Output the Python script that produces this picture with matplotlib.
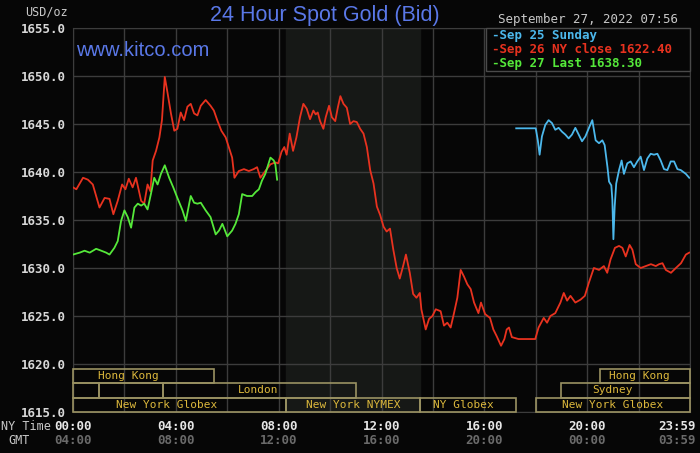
import matplotlib
matplotlib.use('Agg')
import matplotlib.pyplot as plt
from matplotlib.patches import Rectangle
from matplotlib.transforms import offset_copy

# --- data (hours NY time, USD/oz) ---
sep27_hours = [0.0, 0.26, 0.45, 0.65, 0.9, 1.1, 1.29, 1.42, 1.61, 1.74, 1.87, 2.0,
               2.13, 2.26, 2.39, 2.52, 2.65, 2.77, 2.9, 3.03, 3.16, 3.29, 3.42, 3.57,
               3.74, 3.9, 4.06, 4.26, 4.39, 4.52, 4.58, 4.71, 4.84, 4.97, 5.16, 5.35,
               5.55, 5.68, 5.81, 6.0, 6.19, 6.32, 6.45, 6.58, 6.77, 6.97, 7.1, 7.23,
               7.35, 7.48, 7.68, 7.81, 7.87, 7.94]
sep27_vals = [1631.4, 1631.6, 1631.8, 1631.6, 1632.0, 1631.8, 1631.6, 1631.4, 1632.1, 1632.8,
              1634.9, 1636.0, 1635.3, 1634.2, 1636.3, 1636.7, 1636.5, 1636.7, 1636.1, 1637.7,
              1639.4, 1638.7, 1639.8, 1640.7, 1639.4, 1638.4, 1637.3, 1636.0, 1634.9, 1636.7,
              1637.5, 1636.8, 1636.7, 1636.8, 1636.0, 1635.3, 1633.5, 1633.9, 1634.6, 1633.3,
              1633.9, 1634.6, 1635.6, 1637.7, 1637.5, 1637.5, 1637.9, 1638.2, 1639.1, 1639.8,
              1641.5, 1641.2, 1640.8, 1639.2]

sep26_hours = [0.0, 0.13, 0.39, 0.58, 0.77, 1.03, 1.23, 1.42, 1.57, 1.74, 1.91, 2.04,
               2.17, 2.32, 2.45, 2.65, 2.77, 2.9, 3.01, 3.1, 3.23, 3.36, 3.46, 3.57,
               3.68, 3.81, 3.94, 4.06, 4.19, 4.32, 4.45, 4.58, 4.71, 4.84, 4.97, 5.16,
               5.35, 5.48, 5.61, 5.77, 5.94, 6.06, 6.19, 6.28, 6.45, 6.65, 6.84, 7.03,
               7.16, 7.29, 7.48, 7.68, 7.87, 7.98, 8.11, 8.22, 8.31, 8.43, 8.56, 8.69,
               8.83, 8.96, 9.09, 9.22, 9.35, 9.44, 9.52, 9.61, 9.74, 9.83, 9.96, 10.07,
               10.2, 10.3, 10.4, 10.52, 10.65, 10.78, 10.91, 11.04, 11.17, 11.3, 11.43,
               11.56, 11.69, 11.82, 11.95, 12.08, 12.2, 12.33, 12.46, 12.59, 12.71, 12.85,
               12.95, 13.1, 13.23, 13.36, 13.49, 13.55, 13.72, 13.85, 13.98, 14.11, 14.3,
               14.43, 14.56, 14.69, 14.82, 14.95, 15.08, 15.21, 15.34, 15.47, 15.6, 15.77,
               15.87, 16.03, 16.22, 16.35, 16.48, 16.65, 16.78, 16.87, 16.96, 17.07, 17.33,
               17.59, 17.98, 18.11, 18.31, 18.44, 18.57, 18.76, 18.96, 19.09, 19.22, 19.35,
               19.54, 19.74, 19.91, 20.07, 20.26, 20.46, 20.65, 20.78, 20.91, 21.08, 21.24,
               21.37, 21.5, 21.65, 21.76, 21.89, 22.08, 22.28, 22.48, 22.67, 22.8, 22.93,
               23.06, 23.26, 23.45, 23.65, 23.84, 23.97]
sep26_vals = [1638.4, 1638.2, 1639.4, 1639.2, 1638.7, 1636.3, 1637.3, 1637.2, 1635.6, 1637.0,
              1638.7, 1638.2, 1639.3, 1638.4, 1639.4, 1637.0, 1636.7, 1638.7, 1638.0, 1641.2,
              1642.2, 1643.6, 1645.4, 1649.9, 1648.2, 1646.1, 1644.3, 1644.5, 1646.2, 1645.4,
              1646.8, 1647.1, 1646.1, 1645.9, 1646.9, 1647.5, 1646.9, 1646.4, 1645.4, 1644.3,
              1643.6, 1642.6, 1641.5, 1639.4, 1640.1, 1640.3, 1640.1, 1640.3, 1640.5, 1639.4,
              1640.1, 1640.8, 1641.0, 1640.9, 1642.1, 1642.6, 1641.8, 1644.0, 1642.2, 1643.6,
              1645.7, 1647.1, 1646.6, 1645.5, 1646.4, 1646.0, 1646.2, 1645.3, 1644.5, 1645.7,
              1646.9, 1645.7, 1645.3, 1646.7, 1647.9, 1647.1, 1646.7, 1645.0, 1645.3, 1645.2,
              1644.5, 1644.0, 1642.6, 1640.2, 1638.8, 1636.4, 1635.5, 1634.3, 1633.8, 1634.1,
              1631.9, 1630.0, 1628.9, 1630.3, 1631.4, 1629.5, 1627.3, 1626.9, 1627.4, 1625.7,
              1623.6, 1624.7, 1625.0, 1625.7, 1625.5, 1624.0, 1624.3, 1623.8, 1625.3, 1626.9,
              1629.8, 1629.1, 1628.3, 1627.8, 1626.4, 1625.3, 1626.4, 1625.2, 1624.8, 1623.6,
              1622.9, 1621.9, 1622.6, 1623.6, 1623.8, 1622.8, 1622.6, 1622.6, 1622.6, 1623.8,
              1624.8, 1624.3, 1625.0, 1625.3, 1626.4, 1627.4, 1626.6, 1627.1, 1626.4, 1626.7,
              1627.1, 1628.5, 1630.0, 1629.8, 1630.2, 1629.5, 1630.9, 1632.1, 1632.3, 1632.1,
              1631.2, 1632.4, 1631.9, 1630.4, 1630.0, 1630.2, 1630.4, 1630.2, 1630.4, 1630.5,
              1629.8, 1629.5, 1630.0, 1630.5, 1631.4, 1631.6]

sep25_hours = [17.24, 18.0, 18.08, 18.15, 18.24, 18.37, 18.5, 18.63, 18.76, 18.89, 19.02,
               19.15, 19.28, 19.41, 19.54, 19.67, 19.8, 19.93, 20.07, 20.2, 20.33, 20.46,
               20.59, 20.68, 20.79, 20.85, 20.94, 20.98, 21.02, 21.07, 21.13, 21.24, 21.34,
               21.43, 21.56, 21.69, 21.82, 21.95, 22.08, 22.21, 22.34, 22.47, 22.6, 22.73,
               22.86, 22.99, 23.12, 23.25, 23.38, 23.51, 23.64, 23.84, 23.97]
sep25_vals = [1644.55, 1644.55, 1643.3, 1641.8, 1643.7, 1644.9, 1645.4, 1645.1, 1644.4, 1644.6,
              1644.2, 1643.9, 1643.5, 1643.9, 1644.6, 1643.9, 1643.2, 1643.7, 1644.6, 1645.4,
              1643.3, 1643.0, 1643.3, 1642.8, 1640.5, 1639.0, 1638.6, 1637.1, 1633.0, 1636.4,
              1638.8, 1640.2, 1641.2, 1639.8, 1640.9, 1641.1, 1640.5, 1641.1, 1641.6, 1640.2,
              1641.4, 1641.9, 1641.8, 1641.9, 1641.2, 1640.3, 1640.2, 1641.1, 1641.1, 1640.3,
              1640.2, 1639.8, 1639.4]

y_ticks = [1615, 1620, 1625, 1630, 1635, 1640, 1645, 1650, 1655]
ny_times = ['00:00', '04:00', '08:00', '12:00', '16:00', '20:00', '23:59']
gmt_times = ['04:00', '08:00', '12:00', '16:00', '20:00', '00:00', '03:59']
time_pos = [0, 4, 8, 12, 16, 20, 24]

# sessions: (row, start, end, label, label position)
sessions = [
    (0, 0.0, 5.5, 'Hong Kong', 2.15),
    (0, 20.5, 24.0, 'Hong Kong', 22.05),
    (1, 0.0, 1.0, '', 0.5),
    (1, 1.0, 3.5, '', 2.25),
    (1, 3.5, 11.0, 'London', 7.2),
    (1, 19.0, 24.0, 'Sydney', 21.0),
    (2, 0.0, 8.3, 'New York Globex', 3.65),
    (2, 8.3, 13.5, 'New York NYMEX', 10.9),
    (2, 13.5, 17.25, 'NY Globex', 15.2),
    (2, 18.0, 24.0, 'New York Globex', 21.0),
]
row_bounds = [(1618.02, 1619.48), (1616.46, 1618.02), (1615.0, 1616.46)]

BG = '#060606'
MONO = 'DejaVu Sans Mono'
red = '#e8321f'
green = '#55e83a'
cyan = '#4cb8ec'

fig = plt.figure(figsize=(7, 4.53), dpi=100, facecolor=BG)
ax = fig.add_axes([73 / 700, 41 / 453, 617 / 700, 384 / 453], facecolor=BG)
ax.set_xlim(0, 24)
ax.set_ylim(1615, 1655)

ax.axvspan(8.3, 13.5, color='#161816', zorder=0)

ax.set_xticks(range(0, 25, 2))
ax.set_xticklabels([])
ax.set_yticks(y_ticks)
ax.set_yticklabels(['%.1f' % v for v in y_ticks], family=MONO, fontsize=9,
                   fontweight='bold', color='#d8d8d8')
ax.tick_params(length=0, pad=5)
ax.grid(True, color='#3c3c3c', linewidth=1, zorder=1)
ax.set_axisbelow(True)
for s in ax.spines.values():
    s.set_color('#3c3c3c')

# price lines
ax.plot(sep26_hours, sep26_vals, color=red, lw=1.3, zorder=3)
ax.plot(sep27_hours, sep27_vals, color=green, lw=1.3, zorder=4)
ax.plot(sep25_hours, sep25_vals, color=cyan, lw=1.3, zorder=3)

# session boxes
for row, start, end, label, lx in sessions:
    y0, y1 = row_bounds[row]
    ax.add_patch(Rectangle((start, y0), end - start, y1 - y0, fill=False,
                           edgecolor='#9a9262', lw=1.2, zorder=5, clip_on=False))
    if label:
        ax.text(lx, (y0 + y1) / 2, label, ha='center', va='center', family=MONO,
                fontsize=8, color='#dcb83c', zorder=6)

# legend box
leg = Rectangle((486 / 700, 1 - 71 / 453), 204 / 700, 43 / 453, transform=fig.transFigure,
                facecolor=BG, edgecolor='#4a4a4a', lw=1, zorder=7)
fig.patches.append(leg)
legend_items = [('-Sep 25 Sunday', cyan), ('-Sep 26 NY close 1622.40', red),
                ('-Sep 27 Last 1638.30', green)]
for i, (txt, col) in enumerate(legend_items):
    fig.text(492 / 700, 1 - (35 + 14 * i) / 453, txt, family=MONO, fontsize=9,
             color=col, va='center', ha='left', fontweight='bold', zorder=8)

# titles
fig.text(325 / 700, 1 - 15 / 453, '24 Hour Spot Gold (Bid)', family='Liberation Sans',
         fontsize=15.5, color='#5a78e8', ha='center', va='center')
fig.text(76 / 700, 1 - 51 / 453, 'www.kitco.com', family='Liberation Sans',
         fontsize=14.5, color='#5a78e8', ha='left', va='center')
fig.text(678 / 700, 1 - 20 / 453, 'September 27, 2022 07:56', family=MONO, fontsize=9,
         color='#c8c8c8', ha='right', va='center')
fig.text(68 / 700, 1 - 12 / 453, 'USD/oz', family=MONO, fontsize=8.5,
         color='#c8c8c8', ha='right', va='center')

# time axis labels
fig.text(1 / 700, 1 - 426 / 453, 'NY Time', family=MONO, fontsize=8.5,
         color='#c8c8c8', ha='left', va='center')
fig.text(30 / 700, 1 - 441 / 453, 'GMT', family=MONO, fontsize=8.5,
         color='#c8c8c8', ha='right', va='center')
for i, (p, ny, gmt) in enumerate(zip(time_pos, ny_times, gmt_times)):
    tr = ax.get_xaxis_transform()
    if i == len(time_pos) - 1:
        tr = offset_copy(tr, fig=fig, x=-13, y=0, units='dots')
    ax.text(p, -14 / 384, ny, transform=tr, family=MONO, fontsize=9, fontweight='bold',
            color='#e6e6e6', ha='center', va='center', clip_on=False)
    ax.text(p, -29 / 384, gmt, transform=tr, family=MONO, fontsize=9, fontweight='bold',
            color='#6a6a6a', ha='center', va='center', clip_on=False)

fig.savefig('out.png', dpi=100, facecolor=BG)
